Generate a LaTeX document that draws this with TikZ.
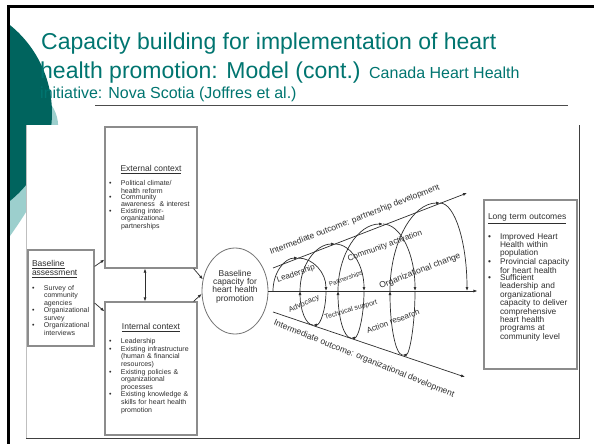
\documentclass[tikz,border=0pt]{standalone}
\usepackage{fontspec}
\setmainfont{Liberation Sans}
\usetikzlibrary{shapes.geometric,arrows.meta}
\definecolor{titleteal}{HTML}{007570}
\definecolor{darkteal}{HTML}{00645E}
\definecolor{paleteal}{HTML}{9CCFCD}
\definecolor{ink}{HTML}{2E2E2E}
\setlength{\parindent}{0pt}

% bullet line with hanging indent, and a centred underlined heading
\newcommand{\bitem}[1]{\par\makebox[12pt][l]{\textbullet}\parbox[t]{\dimexpr\hsize-12pt\relax}{\raggedright#1}}
\newcommand{\boxhead}[1]{{\centering\fontsize{8.5}{9}\selectfont\underline{#1}\par}\vspace{6.5pt}}

\tikzset{
  ctxbox/.style={draw=black!45, line width=1.2pt, fill=white, inner xsep=4pt, inner ysep=0pt,
    text width=#1, align=left, font=\fontsize{7}{7.6}\selectfont, text=ink},
  coil/.style={draw=ink, line width=0.7pt},
  lbl/.style={font=\fontsize{#1}{#1}\selectfont, text=ink, inner sep=0pt},
}

\begin{document}
\begin{tikzpicture}[x=1pt, y=-1pt, >={Latex[length=4pt,width=3pt]}]
\useasboundingbox (0,0) rectangle (594,444);
\fill[white] (0,0) rectangle (594,444);

% slide corner
\begin{scope}
\clip (10,9) rectangle (594,444);
\fill[paleteal] (10,80) .. controls (40,88) and (60,105) .. (58,130)
  .. controls (56,165) and (32,205) .. (10,236) -- cycle;
\fill[darkteal] (-61,113) circle[radius=113];
\end{scope}

\node[anchor=base west, inner sep=0pt, text=titleteal, font=\fontsize{23}{27}\selectfont] (t1) at (41,50)
  {Capacity building for implementation of heart};
\node[anchor=base west, inner sep=0pt, text=titleteal, font=\fontsize{23}{27}\selectfont] (t2) at (40,78)
  {health promotion: Model (cont.) {\fontsize{16}{19}\selectfont Canada Heart Health}};
\node[anchor=base west, inner sep=0pt, text=titleteal, font=\fontsize{16}{19}\selectfont] (t3) at (40,98)
  {initiative: Nova Scotia (Joffres et al.)};
\draw[black!70, line width=0.8pt] (95,105) -- (568,105);

% pasted figure
\fill[white] (26,125) rectangle (579,438);
\draw[black!25, line width=0.5pt] (26,125) -- (26,438);
\draw[black!75, line width=1pt] (26,438) -- (579,438) -- (579,125);

\draw[black, line width=3pt] (7,7) -- (594,7);
\draw[black, line width=3pt] (8.5,5.5) -- (8.5,444);

\node[ctxbox=58pt, minimum width=66pt, minimum height=96pt] (base) at (61,298)
  {{\fontsize{8.5}{9}\selectfont\underline{Baseline}\newline\underline{assessment}\par}\vspace{7pt}%
   \bitem{Survey of\newline community\newline agencies}\bitem{Organizational\newline survey}%
   \bitem{Organizational\newline interviews}};
\node[ctxbox=84pt, minimum width=92pt, minimum height=141pt] (ext) at (151,197.5)
  {\boxhead{External context}\bitem{Political climate/\newline health reform}%
   \bitem{Community\newline awareness \ \& interest}\bitem{Existing inter-\newline organizational\newline partnerships}};
\node[ctxbox=84pt, minimum width=92pt, minimum height=133pt] (int) at (151,368.5)
  {\boxhead{Internal context}\bitem{Leadership}%
   \bitem{Existing infrastructure\newline (human \& financial\newline resources)}%
   \bitem{Existing policies \&\newline organizational\newline processes}%
   \bitem{Existing knowledge \&\newline skills for heart health\newline promotion}};
\node[ellipse, draw=black!55, line width=0.8pt, fill=white, minimum width=66pt, minimum height=86pt,
  inner sep=0pt, text width=46pt, align=center, font=\fontsize{8.5}{8.3}\selectfont, text=ink] (cap) at (235,291)
  {Baseline\\capacity for\\heart health\\promotion\par\vspace{9pt}};
\node[ctxbox=85pt, minimum width=93pt, minimum height=169pt, font=\fontsize{8.3}{8.45}\selectfont] (lto) at (530.5,284.5)
  {{\fontsize{8.5}{9}\selectfont\underline{Long term outcomes}\par}\vspace{8.5pt}%
   \bitem{Improved Heart\newline Health within\newline population}%
   \bitem{Provincial capacity\newline for heart health}%
   \bitem{Sufficient\newline leadership and\newline organizational\newline capacity to deliver\newline comprehensive\newline heart health\newline programs at\newline community level}\par\vspace{14pt}};

\draw[coil, ->] ([yshift=-17pt]base.north east) -- ([yshift=9pt]ext.south west);
\draw[coil, ->] ([yshift=-5pt]base.east) -- ([yshift=-10pt]int.north west);
\draw[coil, <->] ([xshift=-6pt]ext.south) -- ([xshift=-6pt]int.north);
\draw[coil, ->] ([xshift=-4pt]ext.south east) -- (cap.160);
\draw[coil, ->] ([xshift=-4pt]int.north east) -- (cap.185);

% axis and the two intermediate outcomes
\coordinate (pu) at (273,268);
\coordinate (qu) at (467,193);
\coordinate (pd) at (273,312);
\coordinate (qd) at (465,377);
\draw[coil, ->, shorten >=6pt] (cap.east) -- (cap.east -| lto.west);
\draw[coil, ->] (pu) -- node[lbl=8.5, sloped, above=11pt, pos=.45] (pdev)
  {Intermediate outcome: partnership development} (qu);
\draw[coil, ->] (pd) -- (qd);
\node[lbl=8.6, rotate=-22] (odev) at (364,359) {Intermediate outcome: organizational development};

% coil: arcs above the axis, loops below it
\foreach \xa/\xt/\yt/\xb in {273/298/258/326, 300/335/244/364, 338/383/224/415, 390/440/203/467}{
  \draw[coil, ->] (\xa,291) .. controls (\xa,{291-0.55*(291-\yt)}) and ({\xt-0.55*(\xt-\xa)},\yt) .. (\xt,\yt);
  \draw[coil, ->] (\xt,\yt) .. controls ({\xt+0.55*(\xb-\xt)},\yt) and (\xb,{291-0.55*(291-\yt)}) .. (\xb,291);
}
\foreach \xr/\xl/\yb in {326/300/325, 364/338/338, 415/390/355}{
  \draw[coil, ->] (\xr,291) .. controls (\xr,{291+0.55*(\yb-291)}) and ({(\xr+\xl)/2+0.55*(\xr-\xl)/2},\yb) .. ({(\xr+\xl)/2},\yb);
  \draw[coil, ->] ({(\xr+\xl)/2},\yb) .. controls ({(\xr+\xl)/2-0.55*(\xr-\xl)/2},\yb) and (\xl,{291+0.55*(\yb-291)}) .. (\xl,291);
}

\node[lbl=8, rotate=19] (lead) at (296,274) {Leadership};
\node[lbl=6.3, rotate=20] (part) at (346,279) {Partnerships};
\node[lbl=8.2, rotate=20] (comm) at (385,246) {Community activation};
\node[lbl=8.6, rotate=21] (orgc) at (420,271) {Organizational change};
\node[lbl=7.5, rotate=23] (advo) at (304,304) {Advocacy};
\node[lbl=7, rotate=17] (tech) at (351,310) {Technical support};
\node[lbl=8, rotate=20] (actr) at (393,321) {Action research};

\end{tikzpicture}
\end{document}
